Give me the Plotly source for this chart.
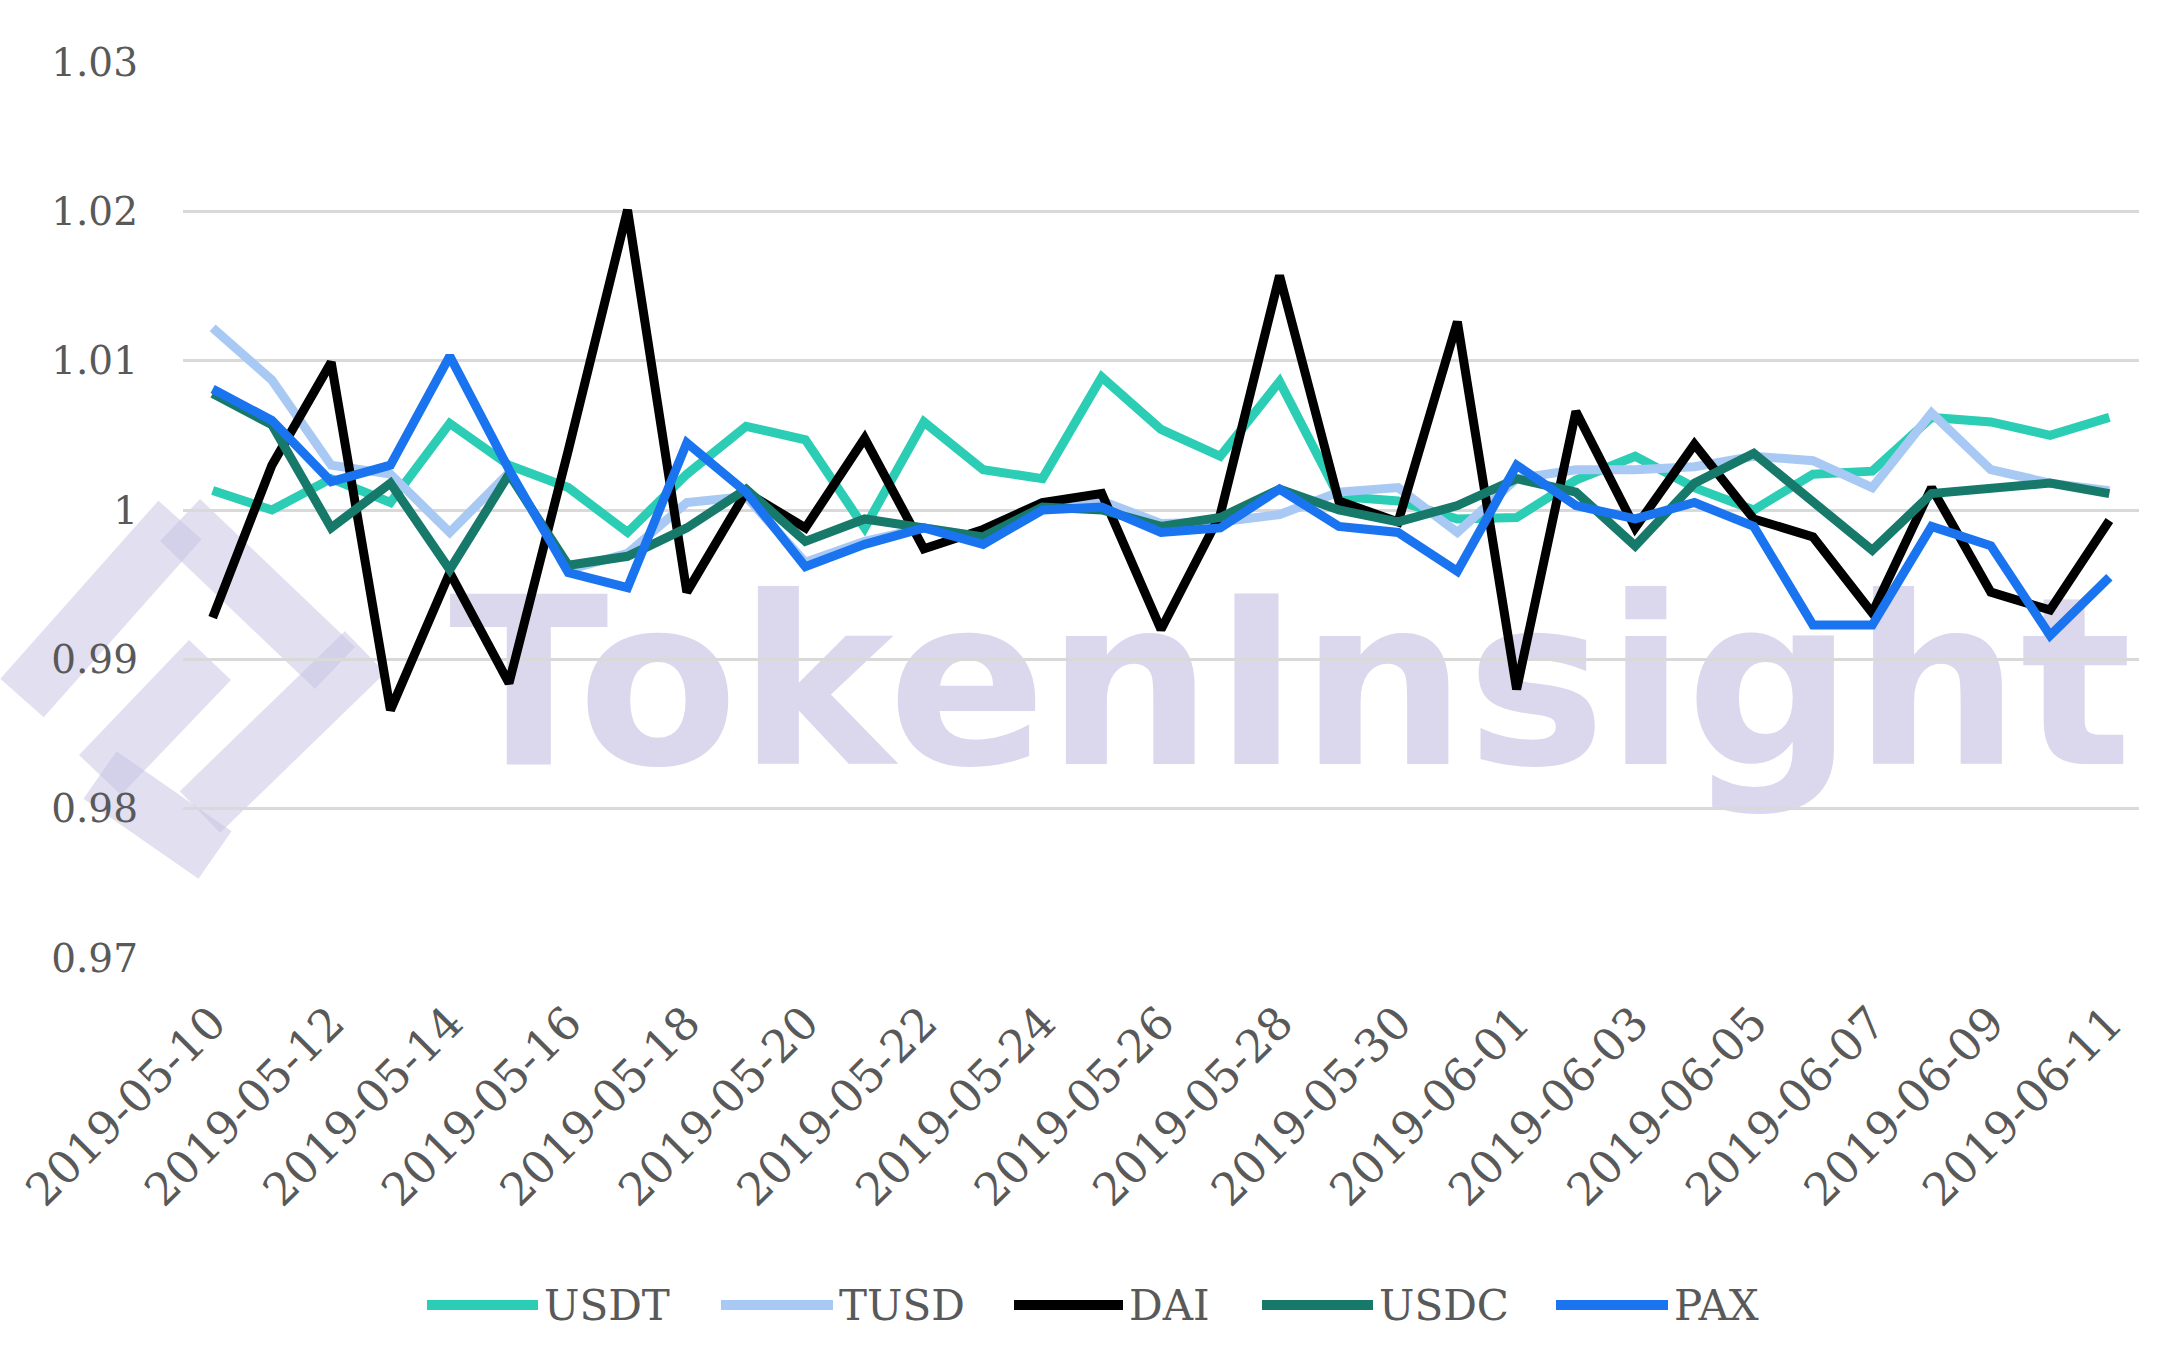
import plotly.graph_objects as go
import pandas as pd

dates = [d.strftime("%Y-%m-%d") for d in pd.date_range("2019-05-10", "2019-06-11", freq="D")]

usdt = [1.0013, 1.0000, 1.0021, 1.0005, 1.0058, 1.0030, 1.0015, 0.9985, 1.0024, 1.0056,
        1.0047, 0.9988, 1.0059, 1.0027, 1.0021, 1.0089, 1.0054, 1.0036, 1.0086, 1.0009,
        1.0006, 0.9994, 0.9995, 1.0020, 1.0036, 1.0015, 1.0000, 1.0024, 1.0026, 1.0062,
        1.0059, 1.0050, 1.0062]
tusd = [1.0122, 1.0087, 1.0030, 1.0024, 0.9985, 1.0025, 0.9960, 0.9971, 1.0005, 1.0009,
        0.9965, 0.9979, 0.9988, 0.9982, 1.0005, 1.0006, 0.9991, 0.9992, 0.9997, 1.0012,
        1.0015, 0.9985, 1.0021, 1.0027, 1.0027, 1.0029, 1.0036, 1.0033, 1.0015, 1.0065,
        1.0027, 1.0018, 1.0013]
dai = [0.9928, 1.0030, 1.0099, 0.9866, 0.9958, 0.9884, 1.0040, 1.0201, 0.9945, 1.0012,
       0.9988, 1.0048, 0.9974, 0.9987, 1.0005, 1.0011, 0.9920, 0.9997, 1.0157, 1.0006,
       0.9992, 1.0126, 0.9880, 1.0066, 0.9988, 1.0044, 0.9994, 0.9982, 0.9931, 1.0015,
       0.9945, 0.9933, 0.9993]
usdc = [1.0078, 1.0057, 0.9988, 1.0018, 0.9960, 1.0024, 0.9963, 0.9969, 0.9988, 1.0014,
        0.9979, 0.9994, 0.9988, 0.9982, 1.0002, 1.0000, 0.9989, 0.9995, 1.0014, 1.0000,
        0.9992, 1.0003, 1.0021, 1.0012, 0.9976, 1.0018, 1.0038, 1.0006, 0.9973, 1.0011,
        1.0015, 1.0018, 1.0011]
pax = [1.0081, 1.0060, 1.0019, 1.0030, 1.0103, 1.0027, 0.9958, 0.9948, 1.0045, 1.0012,
       0.9962, 0.9977, 0.9988, 0.9977, 1.0000, 1.0002, 0.9985, 0.9988, 1.0014, 0.9989,
       0.9985, 0.9959, 1.0030, 1.0003, 0.9994, 1.0005, 0.9989, 0.9923, 0.9923, 0.9989,
       0.9976, 0.9916, 0.9955]

series_names = ["USDT", "TUSD", "DAI", "USDC", "PAX"]
series_values = [usdt, tusd, dai, usdc, pax]
series_colors = ["#2BCDB4", "#A9C9F5", "#000000", "#17796A", "#1A74F0"]

y_ticks = [0.97, 0.98, 0.99, 1.00, 1.01, 1.02, 1.03]
y_ticktext = ["0.97", "0.98", "0.99", "1", "1.01", "1.02", "1.03"]
x_ticks = dates[::2]

W, H = 2160, 1362
L, R, T, B = 183, 21, 62, 404
PW, PH = W - L - R, H - T - B


def px(x):
    return (x - L) / PW


def py(y):
    return (H - B - y) / PH


TXT = "#595959"
FONT = "DejaVu Serif"

fig = go.Figure()
for name, vals, col in zip(series_names, series_values, series_colors):
    fig.add_trace(go.Scatter(x=dates, y=vals, name=name, mode="lines",
                             line=dict(color=col, width=9), showlegend=False))

shapes = []
# watermark logo strips
strips = [((22, 698), (180, 520)), ((180, 520), (335, 668)), ((210, 660), (100, 775)),
          ((100, 775), (215, 855)), ((365, 652), (200, 812))]
hw = 29
for (x0, y0), (x1, y1) in strips:
    dx, dy = x1 - x0, y1 - y0
    ln = (dx * dx + dy * dy) ** 0.5
    nx, ny = -dy / ln * hw, dx / ln * hw
    pts = [(x0 + nx, y0 + ny), (x1 + nx, y1 + ny), (x1 - nx, y1 - ny), (x0 - nx, y0 - ny)]
    path = "M " + " L ".join(f"{px(a):.5f},{py(b):.5f}" for a, b in pts) + " Z"
    shapes.append(dict(type="path", xref="paper", yref="paper", path=path,
                       fillcolor="rgba(200,196,228,0.55)", line=dict(width=0), layer="below"))
# watermark text
shapes.append(dict(type="rect", xref="paper", yref="paper",
                   x0=px(446), x1=px(2150), y0=py(752), y1=py(580),
                   line=dict(width=0), fillcolor="rgba(0,0,0,0)", layer="below",
                   label=dict(text="TokenInsight", textposition="middle left", padding=0,
                              font=dict(family="DejaVu Sans", size=234, color="rgb(219,215,237)",
                                        weight="bold"))))

# legend
leg_y = py(1305)
leg_lines = [(427, 538), (721, 833), (1014, 1123), (1262, 1373), (1556, 1668)]
annotations = []
for (a, b), name, col in zip(leg_lines, series_names, series_colors):
    shapes.append(dict(type="line", xref="paper", yref="paper", x0=px(a), x1=px(b),
                       y0=leg_y, y1=leg_y, line=dict(color=col, width=10)))
    annotations.append(dict(xref="paper", yref="paper", x=px(b + 4), y=leg_y, text=name,
                            showarrow=False, xanchor="left", yanchor="middle",
                            font=dict(family=FONT, size=42, color=TXT)))

fig.update_layout(
    width=W, height=H,
    margin=dict(l=L, r=R, t=T, b=B, autoexpand=False),
    paper_bgcolor="white", plot_bgcolor="white",
    shapes=shapes, annotations=annotations,
    xaxis=dict(type="category", range=[-0.5, len(dates) - 0.5], tickmode="array",
               tickvals=x_ticks, ticktext=x_ticks, tickangle=-45, showgrid=False,
               showline=False, zeroline=False, ticks="",
               tickfont=dict(family=FONT, size=45, color=TXT), ticklabelstandoff=28),
    yaxis=dict(range=[0.97, 1.03], tickmode="array", tickvals=y_ticks, ticktext=y_ticktext,
               showgrid=True, gridcolor="#D9D9D9", gridwidth=2.5, zeroline=False,
               showline=False, ticks="", ticklabelstandoff=44,
               tickfont=dict(family=FONT, size=39, color=TXT)),
)

fig.write_html("out.html")
